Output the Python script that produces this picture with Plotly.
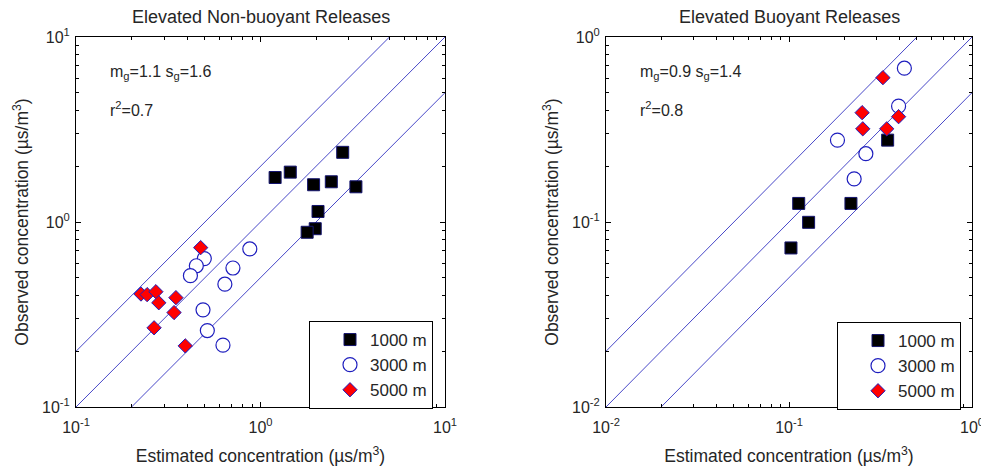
import math
import plotly.graph_objects as go

# Elevated non-buoyant releases: estimated vs observed concentration (µs/m³)
nb_1000_est = [2.79, 1.20, 1.45, 1.94, 2.42, 3.29, 2.05, 1.98, 1.79]
nb_1000_obs = [2.38, 1.74, 1.86, 1.59, 1.65, 1.55, 1.14, 0.92, 0.88]
nb_3000_est = [0.875, 0.496, 0.449, 0.417, 0.709, 0.641, 0.488, 0.515, 0.626]
nb_3000_obs = [0.715, 0.634, 0.580, 0.513, 0.564, 0.461, 0.335, 0.259, 0.216]
nb_5000_est = [0.474, 0.225, 0.243, 0.271, 0.281, 0.348, 0.340, 0.265, 0.391]
nb_5000_obs = [0.727, 0.408, 0.405, 0.420, 0.366, 0.390, 0.324, 0.268, 0.214]

# Elevated buoyant releases
b_1000_est = [0.113, 0.128, 0.1025, 0.218, 0.346]
b_1000_obs = [0.126, 0.0996, 0.0724, 0.126, 0.277]
b_3000_est = [0.427, 0.397, 0.184, 0.263, 0.227]
b_3000_obs = [0.678, 0.423, 0.277, 0.234, 0.171]
b_5000_est = [0.326, 0.251, 0.253, 0.342, 0.397]
b_5000_obs = [0.603, 0.390, 0.319, 0.319, 0.371]

# Factor-of-two band around the 1:1 line
factors = [0.5, 1.0, 2.0]

# Axis limits (decades)
nb_limits = [0.1, 10.0]
b_limits = [0.01, 1.0]

nb_tickvals = [0.1, 1, 10]
nb_ticktext = ["10<sup>-1</sup>", "10<sup>0</sup>", "10<sup>1</sup>"]
b_tickvals = [0.01, 0.1, 1]
b_ticktext = ["10<sup>-2</sup>", "10<sup>-1</sup>", "10<sup>0</sup>"]

series_names = ["1000 m", "3000 m", "5000 m"]

FONT = "Liberation Sans, Arial, sans-serif"
TEXT_COLOR = "#262626"
LINE_COLOR = "rgb(72,72,200)"
EDGE_BLUE = "rgb(30,30,190)"


def minor_vals(lo, hi):
    vals = []
    d = lo
    while d < hi * 0.999:
        vals += [d * k for k in range(2, 10)]
        d *= 10
    return vals


marker_styles = [
    dict(symbol="square", size=12, color="black", line=dict(color="rgb(20,20,110)", width=1)),
    dict(symbol="circle", size=14, color="white", line=dict(color=EDGE_BLUE, width=1.2)),
    dict(symbol="diamond", size=11, color="red", line=dict(color=EDGE_BLUE, width=1)),
]

fig = go.Figure()

panels = [
    ("x", "y", "legend", nb_limits,
     [(nb_1000_est, nb_1000_obs), (nb_3000_est, nb_3000_obs), (nb_5000_est, nb_5000_obs)]),
    ("x2", "y2", "legend2", b_limits,
     [(b_1000_est, b_1000_obs), (b_3000_est, b_3000_obs), (b_5000_est, b_5000_obs)]),
]

for xa, ya, leg, lim, groups in panels:
    for f in factors:
        fig.add_trace(go.Scatter(
            x=lim, y=[f * v for v in lim], mode="lines",
            line=dict(color=LINE_COLOR, width=1),
            xaxis=xa, yaxis=ya, showlegend=False, hoverinfo="skip"))
    for name, (ex, ob), mk in zip(series_names, groups, marker_styles):
        fig.add_trace(go.Scatter(
            x=ex, y=ob, mode="markers", name=name, marker=mk,
            xaxis=xa, yaxis=ya, legend=leg, cliponaxis=False))

tick_font = dict(family=FONT, size=16, color=TEXT_COLOR)
title_font = dict(family=FONT, size=17.5, color=TEXT_COLOR)


def log_axis(lim, tv, tt, domain, anchor, title, standoff, label_gap):
    return dict(
        type="log", range=[round(math.log10(lim[0])), round(math.log10(lim[1]))],
        domain=domain, anchor=anchor, automargin=False,
        tickmode="array", tickvals=tv, ticktext=tt,
        ticks="inside", ticklen=5, tickcolor="black", tickwidth=1,
        ticklabelstandoff=label_gap, ticklabeloverflow="allow",
        minor=dict(tickmode="array", tickvals=minor_vals(lim[0], lim[1]),
                   ticks="inside", ticklen=3, tickcolor="black", tickwidth=1, showgrid=False),
        showline=True, linecolor="black", linewidth=1, mirror="ticks",
        showgrid=False, zeroline=False,
        tickfont=tick_font,
        title=dict(text=title, font=title_font, standoff=standoff),
    )


xlab = "Estimated concentration (µs/m<sup>3</sup>)"
ylab = "Observed concentration (µs/m<sup>3</sup>)"

x1_dom = [76 / 981, 445 / 981]
x2_dom = [606 / 981, 972 / 981]
y_dom = [(468 - 407) / 468, (468 - 37) / 468]

legend_style = dict(
    bgcolor="white", bordercolor="black", borderwidth=1,
    font=dict(family=FONT, size=17, color=TEXT_COLOR),
    xanchor="left", yanchor="top", tracegroupgap=0, itemsizing="trace",
    indentation=20,
)

fig.update_layout(
    width=981, height=468,
    margin=dict(l=0, r=0, t=0, b=0),
    paper_bgcolor="white", plot_bgcolor="white",
    font=dict(family=FONT, color=TEXT_COLOR),
    xaxis=log_axis(nb_limits, nb_tickvals, nb_ticktext, x1_dom, "y", xlab, 14, 6),
    yaxis=log_axis(nb_limits, nb_tickvals, nb_ticktext, y_dom, "x", ylab, 8, 2),
    xaxis2=log_axis(b_limits, b_tickvals, b_ticktext, x2_dom, "y2", xlab, 14, 6),
    yaxis2=log_axis(b_limits, b_tickvals, b_ticktext, y_dom, "x2", ylab, 8, 2),
    legend=dict(x=309 / 981, y=(468 - 321) / 468, **legend_style),
    legend2=dict(x=837 / 981, y=(468 - 322) / 468, **legend_style),
    showlegend=True,
)

annots = [
    ("x domain", "y domain", 0.5, 1.0, "Elevated Non-buoyant Releases", "center", "bottom", 8, 18),
    ("x2 domain", "y2 domain", 0.5, 1.0, "Elevated Buoyant Releases", "center", "bottom", 8, 18),
    ("x domain", "y domain", 0.087, 0.905, "m<sub>g</sub>=1.1 s<sub>g</sub>=1.6", "left", "middle", 0, 16),
    ("x domain", "y domain", 0.087, 0.805, "r<sup>2</sup>=0.7", "left", "middle", 0, 16),
    ("x2 domain", "y2 domain", 0.087, 0.905, "m<sub>g</sub>=0.9 s<sub>g</sub>=1.4", "left", "middle", 0, 16),
    ("x2 domain", "y2 domain", 0.087, 0.805, "r<sup>2</sup>=0.8", "left", "middle", 0, 16),
]
for xr, yr, ax, ay, txt, xa, yanc, yshift, fs in annots:
    fig.add_annotation(xref=xr, yref=yr, x=ax, y=ay, text=txt, showarrow=False,
                       xanchor=xa, yanchor=yanc, yshift=yshift,
                       font=dict(family=FONT, size=fs, color=TEXT_COLOR))

fig.write_html("out.html")
